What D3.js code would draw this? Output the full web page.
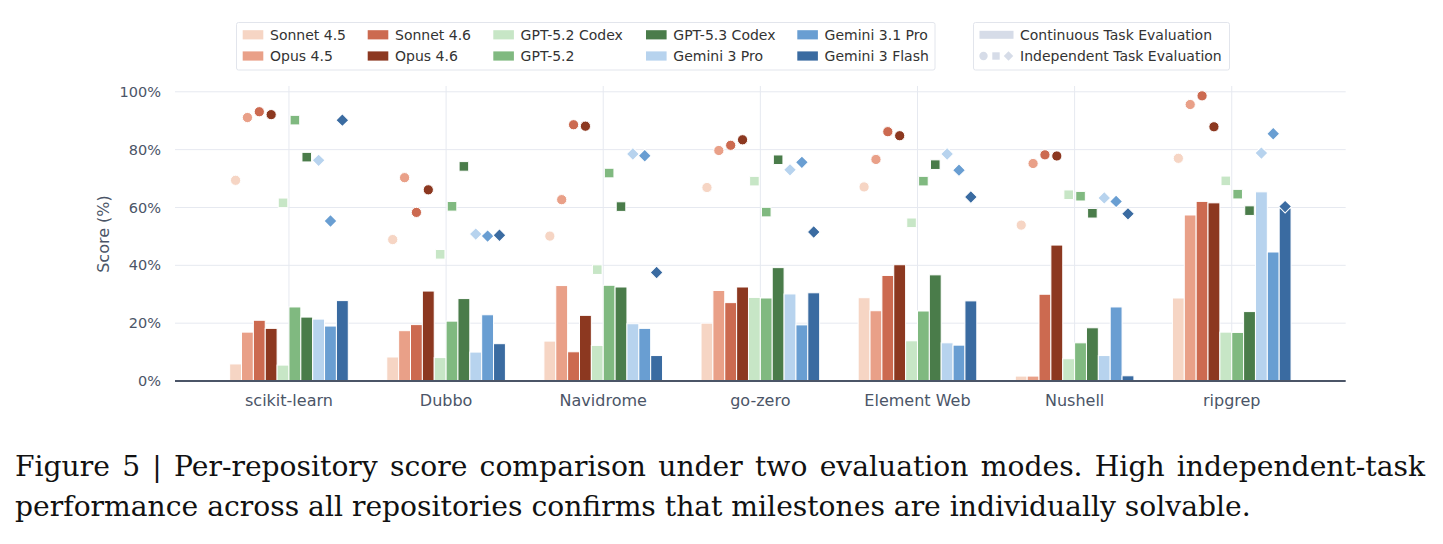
<!DOCTYPE html>
<html>
<head>
<meta charset="utf-8">
<script src="https://cdn.jsdelivr.net/npm/d3@7"></script>
<style>
  html, body { margin: 0; padding: 0; background: #fff; }
  svg { display: block; }
</style>
</head>
<body>
<svg id="chart" width="1443" height="544"></svg>
<script>
// ---------------- DATA ----------------
const repos = ["scikit-learn", "Dubbo", "Navidrome", "go-zero", "Element Web", "Nushell", "ripgrep"];
const models = ["Sonnet 4.5", "Opus 4.5", "Sonnet 4.6", "Opus 4.6", "GPT-5.2 Codex", "GPT-5.2", "GPT-5.3 Codex", "Gemini 3 Pro", "Gemini 3.1 Pro", "Gemini 3 Flash"];
const modelColors = ["#f6d5c4", "#e9a088", "#cc6a50", "#8c3820", "#c7e6c6", "#80b980", "#4a7c4a", "#b7d3ee", "#699ed2", "#3a6ba1"];
const modelShapes = ["circle", "circle", "circle", "circle", "square", "square", "square", "diamond", "diamond", "diamond"];
// Continuous Task Evaluation (bars), rows = models, columns = repos
const continuousScores = [
  [5.9, 8.3, 13.8, 20.0, 28.8, 1.7, 28.7],
  [16.9, 17.4, 33.0, 31.3, 24.3, 1.7, 57.4],
  [21.0, 19.5, 10.1, 27.1, 36.5, 30.0, 62.1],
  [18.2, 31.1, 22.7, 32.5, 40.2, 47.0, 61.6],
  [5.5, 8.1, 12.3, 28.9, 13.9, 7.7, 16.9],
  [25.6, 20.7, 33.1, 28.7, 24.2, 13.2, 16.8],
  [22.1, 28.5, 32.5, 39.2, 36.7, 18.4, 24.0],
  [21.4, 10.0, 19.8, 30.1, 13.2, 8.8, 65.4],
  [19.0, 22.9, 18.2, 19.4, 12.4, 25.6, 44.6],
  [27.8, 12.9, 8.8, 30.5, 27.7, 1.8, 59.8]
];
// Independent Task Evaluation (markers)
const independentScores = [
  [69.4, 48.9, 50.1, 66.9, 67.1, 53.9, 77.0],
  [91.1, 70.3, 62.7, 79.7, 76.6, 75.2, 95.6],
  [93.1, 58.3, 88.6, 81.5, 86.2, 78.2, 98.6],
  [92.1, 66.1, 88.1, 83.4, 84.8, 77.8, 87.9],
  [61.6, 43.8, 38.5, 69.1, 54.7, 64.4, 69.2],
  [90.2, 60.4, 71.9, 58.4, 69.1, 63.9, 64.6],
  [77.4, 74.2, 60.3, 76.5, 74.8, 58.0, 58.9],
  [76.3, 50.8, 78.5, 73.0, 78.5, 63.3, 78.8],
  [55.3, 50.1, 77.9, 75.6, 72.9, 62.1, 85.5],
  [90.2, 50.4, 37.5, 51.5, 63.6, 57.8, 60.3]
];
const yTicks = [0, 20, 40, 60, 80, 100];
const yTickLabels = ["0%", "20%", "40%", "60%", "80%", "100%"];
const modeLabels = ["Continuous Task Evaluation", "Independent Task Evaluation"];
const captionLines = [
  "Figure 5 | Per-repository score comparison under two evaluation modes. High independent-task",
  "performance across all repositories confirms that milestones are individually solvable."
];

// ---------------- LAYOUT ----------------
const svg = d3.select("#chart");
const plot = { left: 175, right: 1345.7, top: 86, bottom: 381 };
const axisColor = "#4b5567";
const gridColor = "#e6e9f0";
const fontSans = "'DejaVu Sans', sans-serif";

const y = d3.scaleLinear().domain([0, 102]).range([plot.bottom, plot.top]);
const x0 = d3.scaleBand().domain(repos)
  .range([plot.left + 35.4, plot.right - 35.4])
  .paddingInner(0.245).paddingOuter(0.1225);
const x1 = d3.scaleBand().domain(models).range([0, x0.bandwidth()]).padding(0);

// gridlines
const g = svg.append("g");
g.selectAll("line.hgrid").data(yTicks.filter(d => d > 0)).join("line")
  .attr("x1", plot.left).attr("x2", plot.right)
  .attr("y1", d => y(d)).attr("y2", d => y(d))
  .attr("stroke", gridColor).attr("stroke-width", 1);
g.selectAll("line.vgrid").data(repos).join("line")
  .attr("x1", d => x0(d) + x0.bandwidth() / 2).attr("x2", d => x0(d) + x0.bandwidth() / 2)
  .attr("y1", plot.top).attr("y2", plot.bottom)
  .attr("stroke", gridColor).attr("stroke-width", 1);

// y axis
const yAxis = d3.axisLeft(y).tickValues(yTicks).tickFormat((d, i) => yTickLabels[i]).tickSize(0).tickPadding(14);
const yG = svg.append("g").attr("transform", `translate(${plot.left},0)`).call(yAxis);
yG.select(".domain").remove();
yG.selectAll("text").attr("font-family", fontSans).attr("font-size", 14.5).attr("fill", axisColor);

svg.append("text")
  .attr("transform", `translate(${109},${234}) rotate(-90)`)
  .attr("text-anchor", "middle")
  .attr("font-family", fontSans).attr("font-size", 16).attr("fill", axisColor)
  .text("Score (%)");

// bars
const barsG = svg.append("g");
models.forEach((m, mi) => {
  barsG.selectAll(null).data(repos).join("rect")
    .attr("x", (r) => x0(r) + x1(m))
    .attr("width", x1.bandwidth())
    .attr("y", (r, ri) => y(continuousScores[mi][ri]))
    .attr("height", (r, ri) => y(0) - y(continuousScores[mi][ri]))
    .attr("fill", modelColors[mi])
    .attr("stroke", "#fff").attr("stroke-width", 1);
});

// x axis
const xAxis = d3.axisBottom(x0).tickSize(0).tickPadding(14);
const xG = svg.append("g").attr("transform", `translate(0,${plot.bottom})`).call(xAxis);
xG.select(".domain").remove();
xG.selectAll("text").attr("font-family", fontSans).attr("font-size", 16).attr("fill", axisColor);
svg.append("line").attr("x1", plot.left).attr("x2", plot.right)
  .attr("y1", y(0)).attr("y2", y(0)).attr("stroke", axisColor).attr("stroke-width", 2);

// markers
const symbolFor = { circle: d3.symbolCircle, square: d3.symbolSquare, diamond: d3.symbolSquare };
const sizeFor = { circle: 82, square: 92, diamond: 82 };
const rotFor = { circle: 0, square: 0, diamond: 45 };
const marksG = svg.append("g");
models.forEach((m, mi) => {
  const shape = modelShapes[mi];
  marksG.selectAll(null).data(repos).join("path")
    .attr("d", d3.symbol().type(symbolFor[shape]).size(sizeFor[shape]))
    .attr("transform", (r, ri) => `translate(${x0(r) + x1(m) + x1.bandwidth() / 2},${y(independentScores[mi][ri])}) rotate(${rotFor[shape]})`)
    .attr("fill", modelColors[mi])
    .attr("stroke", "#fff").attr("stroke-width", 1);
});

// legend 1
const leg = svg.append("g");
leg.append("rect").attr("x", 236.5).attr("y", 22.5).attr("width", 698.5).attr("height", 47.5)
  .attr("fill", "#fff").attr("stroke", "#e2e5ec").attr("stroke-width", 1).attr("rx", 2);
const colX = [242.7, 367.7, 493.3, 646, 797.3];
const rowY = [34.8, 56];
models.forEach((m, mi) => {
  const col = Math.floor(mi / 2), row = mi % 2;
  leg.append("rect").attr("x", colX[col]).attr("y", rowY[row] - 4.6).attr("width", 20.6).attr("height", 9.2)
    .attr("fill", modelColors[mi]);
  leg.append("text").attr("x", colX[col] + 27.3).attr("y", rowY[row]).attr("dy", "0.35em")
    .attr("font-family", fontSans).attr("font-size", 14).attr("fill", "#333")
    .text(m);
});

// legend 2
const leg2 = svg.append("g");
leg2.append("rect").attr("x", 973.5).attr("y", 22.5).attr("width", 256).attr("height", 47.5)
  .attr("fill", "#fff").attr("stroke", "#e2e5ec").attr("stroke-width", 1).attr("rx", 2);
const modeColor = "#d6dce8";
leg2.append("rect").attr("x", 979.5).attr("y", rowY[0] - 4).attr("width", 34).attr("height", 8).attr("fill", modeColor);
leg2.append("path").attr("d", d3.symbol().type(d3.symbolCircle).size(55)).attr("transform", `translate(983.5,${rowY[1]})`).attr("fill", modeColor);
leg2.append("path").attr("d", d3.symbol().type(d3.symbolSquare).size(55)).attr("transform", `translate(996,${rowY[1]})`).attr("fill", modeColor);
leg2.append("path").attr("d", d3.symbol().type(d3.symbolSquare).size(45)).attr("transform", `translate(1008.5,${rowY[1]}) rotate(45)`).attr("fill", modeColor);
modeLabels.forEach((t, i) => {
  leg2.append("text").attr("x", 1020).attr("y", rowY[i]).attr("dy", "0.35em")
    .attr("font-family", fontSans).attr("font-size", 14).attr("fill", "#333").text(t);
});

// caption (justified first line)
const capFont = "'DejaVu Serif', serif";
const cap1 = svg.append("text").attr("x", 15).attr("y", 476)
  .attr("font-family", capFont).attr("font-size", 28).attr("fill", "#111").text(captionLines[0]);
const w1 = cap1.node().getComputedTextLength();
const fs = 28 * (1410 / w1) * 0.975;
cap1.attr("font-size", fs);
const w1b = cap1.node().getComputedTextLength();
const nSpaces = (captionLines[0].match(/ /g) || []).length;
cap1.attr("word-spacing", Math.max(0, (1410 - w1b) / nSpaces));
svg.append("text").attr("x", 15).attr("y", 515.5)
  .attr("font-family", capFont).attr("font-size", fs).attr("fill", "#111").text(captionLines[1]);
</script>
</body>
</html>
